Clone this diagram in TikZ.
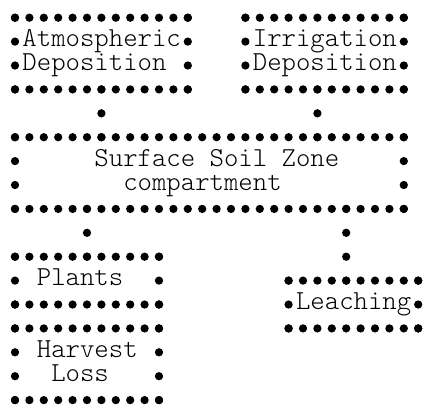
\documentclass[tikz,border=0pt]{standalone}
\usetikzlibrary{decorations.markings}
% one box of bullets, corners given as column and row
\newcommand{\dotbox}[4]{%
  \foreach \c in {#1,...,#3} {\fill (\c,#2) circle (3.1pt); \fill (\c,#4) circle (3.1pt);}
  \foreach \r in {#2,...,#4} {\fill (#1,\r) circle (3.1pt); \fill (#3,\r) circle (3.1pt);}
}
\begin{document}
\begin{tikzpicture}[x=10.8pt,y=-17.925pt,
  boxtext/.style={font=\fontsize{20.571pt}{17.925pt}\selectfont\fontseries{l}\ttfamily, inner sep=0pt, align=left, anchor=base west},
  link/.style={decoration={markings, mark=between positions 0 and 1 step 17.925pt with {\fill (0,0) circle (3.1pt);}}, postaction={decorate}}]
\useasboundingbox (-1.0417,-0.7406) rectangle (28.403,16.247);
\dotbox{0}{0}{12}{3}
\dotbox{16}{0}{27}{3}
\dotbox{0}{5}{27}{8}
\dotbox{0}{10}{10}{12}
\dotbox{0}{13}{10}{16}
\dotbox{19}{11}{28}{13}
% base of a two-line text is its last line
\node[boxtext] (atmo) at (0.5,2.213) {Atmospheric\\Deposition};
\node[boxtext] (irrig) at (16.5,2.213) {Irrigation\\Deposition};
\node[boxtext] (soil) at (5.5,7.213) {Surface Soil Zone\\\phantom{xx}compartment};
\node[boxtext] (plants) at (1.5,11.213) {Plants};
\node[boxtext] (harvest) at (1.5,15.213) {Harvest\\\phantom{x}Loss};
\node[boxtext] (leach) at (19.5,12.213) {Leaching};
\coordinate (atmo-s) at (6,3);
\coordinate (irrig-s) at (21,3);
\coordinate (soil-nw) at (6,5);
\coordinate (soil-ne) at (21,5);
\coordinate (soil-sw) at (5,8);
\coordinate (soil-se) at (23,8);
\coordinate (plants-n) at (5,10);
\coordinate (leach-n) at (23,11);
\path[link] (atmo-s) -- (soil-nw);
\path[link] (irrig-s) -- (soil-ne);
\path[link] (soil-sw) -- (plants-n);
\path[link] (soil-se) -- (leach-n);
\end{tikzpicture}
\end{document}
